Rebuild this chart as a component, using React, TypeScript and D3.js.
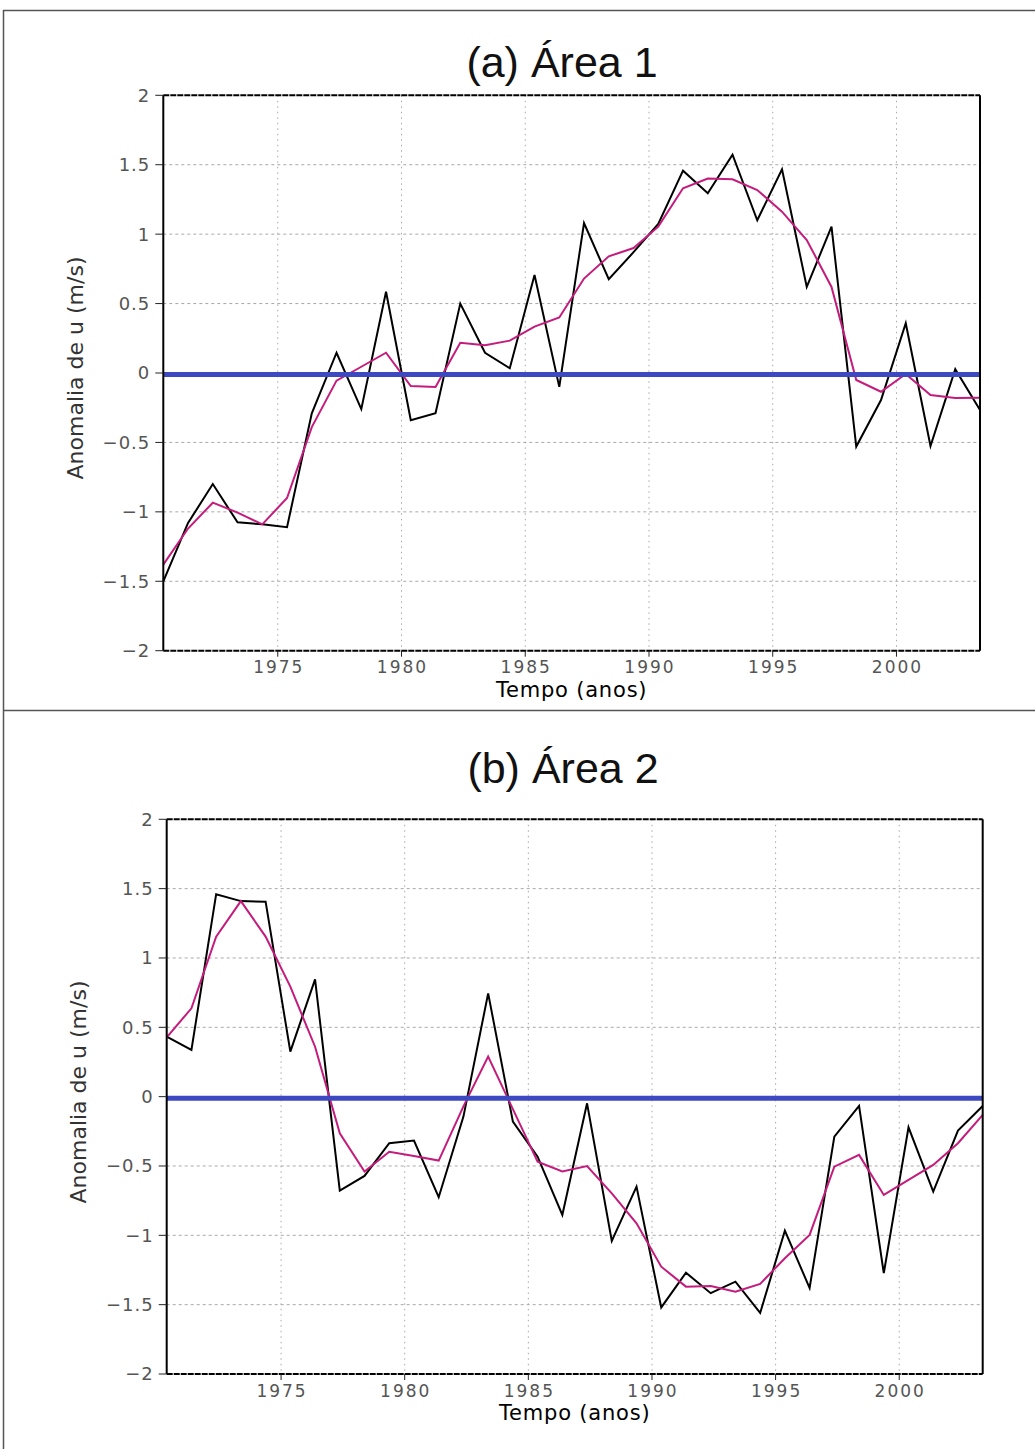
import React from "react";
import * as d3 from "d3";

// Annual series, one value per year
const years = [
  1970, 1971, 1972, 1973, 1974, 1975, 1976, 1977, 1978, 1979,
  1980, 1981, 1982, 1983, 1984, 1985, 1986, 1987, 1988, 1989,
  1990, 1991, 1992, 1993, 1994, 1995, 1996, 1997, 1998, 1999,
  2000, 2001, 2002, 2003,
];

// Área 1: annual anomaly and smoothed curve (m/s)
const area1Anomaly = [
  -1.5, -1.08, -0.8, -1.075, -1.09, -1.11, -0.29, 0.146, -0.26, 0.585,
  -0.34, -0.29, 0.5, 0.146, 0.034, 0.706, -0.1, 1.08, 0.675, 0.87,
  1.073, 1.457, 1.294, 1.572, 1.1, 1.467, 0.62, 1.054, -0.53, -0.195,
  0.358, -0.526, 0.027, -0.267,
];
const area1Smoothed = [
  -1.38, -1.12, -0.934, -1.005, -1.09, -0.9, -0.39, -0.055, 0.045, 0.146,
  -0.094, -0.1, 0.218, 0.2, 0.233, 0.334, 0.4, 0.68, 0.84, 0.9,
  1.054, 1.33, 1.4, 1.395, 1.318, 1.162, 0.958, 0.62, -0.05, -0.135,
  -0.007, -0.158, -0.18, -0.178,
];

// Área 2: annual anomaly and smoothed curve (m/s)
const area2Anomaly = [
  0.433, 0.337, 1.46, 1.41, 1.406, 0.325, 0.846, -0.678, -0.572, -0.336,
  -0.317, -0.725, -0.144, 0.745, -0.18, -0.433, -0.853, -0.048, -1.04, -0.649,
  -1.52, -1.27, -1.417, -1.334, -1.56, -0.966, -1.38, -0.288, -0.067, -1.273,
  -0.221, -0.685, -0.245, -0.067,
];
const area2Smoothed = [
  0.428, 0.637, 1.154, 1.41, 1.154, 0.793, 0.36, -0.264, -0.54, -0.397,
  -0.428, -0.461, -0.07, 0.289, -0.09, -0.469, -0.54, -0.5, -0.697, -0.913,
  -1.226, -1.37, -1.365, -1.406, -1.35, -1.165, -0.997, -0.505, -0.42, -0.709,
  -0.6, -0.492, -0.336, -0.132,
];

const yearTicks = [1975, 1980, 1985, 1990, 1995, 2000];
const valueTicks = [-2, -1.5, -1, -0.5, 0, 0.5, 1, 1.5, 2];
const panelTitles = ["(a) Área 1", "(b) Área 2"];
const xAxisTitle = "Tempo (anos)";
const yAxisTitle = "Anomalia de u (m/s)";

// each yearly value is stamped a little after the start of its year
const STAMP = 0.375;

const W = 1035;
const H = 1449;

type Layout = {
  left: number;
  right: number;
  top: number;
  bottom: number;
  titleX: number;
  titleY: number;
  yLabelX: number;
  yLabelY: number;
};

const layouts: Layout[] = [
  { left: 163.3, right: 980, top: 95.3, bottom: 650.7, titleX: 562, titleY: 77, yLabelX: 75, yLabelY: 368 },
  { left: 166.7, right: 982.7, top: 819.3, bottom: 1374, titleX: 563, titleY: 783, yLabelX: 78, yLabelY: 1092 },
];

const fmt = d3.format("");

function Panel({
  layout,
  title,
  anomaly,
  smoothed,
}: {
  layout: Layout;
  title: string;
  anomaly: number[];
  smoothed: number[];
}) {
  const { left, right, top, bottom } = layout;
  const x = d3
    .scaleLinear()
    .domain([years[0] + STAMP, years[years.length - 1] + STAMP])
    .range([left, right]);
  const y = d3.scaleLinear().domain([-2, 2]).range([bottom, top]);

  const line = d3
    .line<number>()
    .x((_, i) => x(years[i] + STAMP))
    .y((d) => y(d));

  const tickFont = "'DejaVu Sans', sans-serif";

  return (
    <g>
      <text
        x={layout.titleX}
        y={layout.titleY}
        textAnchor="middle"
        fontFamily="'Liberation Sans', Arial, sans-serif"
        fontSize={43}
        fill="#111"
      >
        {title}
      </text>

      {/* grid */}
      {valueTicks
        .filter((v) => v > -2 && v < 2)
        .map((v) => (
          <line
            key={"h" + v}
            x1={left}
            x2={right}
            y1={y(v)}
            y2={y(v)}
            stroke="#a8a8a8"
            strokeWidth={1}
            strokeDasharray="3,3"
          />
        ))}
      {yearTicks.map((t) => (
        <line
          key={"v" + t}
          x1={x(t)}
          x2={x(t)}
          y1={top}
          y2={bottom}
          stroke="#a8a8a8"
          strokeWidth={1}
          strokeDasharray="1.5,4"
        />
      ))}

      {/* series */}
      <path d={line(anomaly) || ""} fill="none" stroke="#000" strokeWidth={2} strokeLinejoin="miter" />
      <path d={line(smoothed) || ""} fill="none" stroke="#c41c7c" strokeWidth={2} />
      <line x1={left} x2={right} y1={y(0) + 1.5} y2={y(0) + 1.5} stroke="#3d49c0" strokeWidth={5} />

      {/* frame */}
      <line x1={left} x2={left} y1={top} y2={bottom} stroke="#000" strokeWidth={2} />
      <line x1={right} x2={right} y1={top} y2={bottom} stroke="#000" strokeWidth={2} />
      <line x1={left} x2={right} y1={top} y2={top} stroke="#000" strokeWidth={2} strokeDasharray="6,1" />
      <line x1={left} x2={right} y1={bottom} y2={bottom} stroke="#000" strokeWidth={2} strokeDasharray="6,1" />

      {/* y axis */}
      {valueTicks.map((v) => (
        <g key={"yt" + v}>
          <line x1={left - 8} x2={left} y1={y(v)} y2={y(v)} stroke="#222" strokeWidth={1} />
          <text
            x={left - 13}
            y={y(v)}
            dy="0.36em"
            textAnchor="end"
            fontFamily={tickFont}
            fontSize={18}
            letterSpacing={1}
            fill="#555"
          >
            {fmt(v)}
          </text>
        </g>
      ))}

      {/* x axis */}
      {yearTicks.map((t) => (
        <g key={"xt" + t}>
          <line x1={x(t)} x2={x(t)} y1={bottom} y2={bottom + 6} stroke="#222" strokeWidth={1} />
          <text
            x={x(t) + 1}
            y={bottom + 22.5}
            textAnchor="middle"
            fontFamily={tickFont}
            fontSize={17}
            letterSpacing={2}
            fill="#555"
          >
            {t}
          </text>
        </g>
      ))}

      <text
        x={(left + right) / 2}
        y={bottom + 46}
        textAnchor="middle"
        fontFamily={tickFont}
        fontSize={21}
        letterSpacing={0.8}
        fill="#000"
      >
        {xAxisTitle}
      </text>
      <text
        transform={`translate(${layout.yLabelX},${layout.yLabelY}) rotate(-90)`}
        dy="0.35em"
        textAnchor="middle"
        fontFamily={tickFont}
        fontSize={22}
        fill="#333"
      >
        {yAxisTitle}
      </text>
    </g>
  );
}

export default function App() {
  const series = [
    { anomaly: area1Anomaly, smoothed: area1Smoothed },
    { anomaly: area2Anomaly, smoothed: area2Smoothed },
  ];
  return (
    <div style={{ position: "absolute", left: 0, top: 0 }}>
      <svg width={W} height={H} style={{ display: "block", background: "#fff" }}>
        <rect x={0} y={0} width={W} height={H} fill="#fff" />
        {/* outer figure borders */}
        <line x1={3} x2={W} y1={10.5} y2={10.5} stroke="#555" strokeWidth={1.5} />
        <line x1={3.5} x2={3.5} y1={10} y2={H} stroke="#555" strokeWidth={1.5} />
        <line x1={3} x2={W} y1={710.5} y2={710.5} stroke="#555" strokeWidth={1.5} />
        {layouts.map((l, i) => (
          <Panel
            key={i}
            layout={l}
            title={panelTitles[i]}
            anomaly={series[i].anomaly}
            smoothed={series[i].smoothed}
          />
        ))}
      </svg>
    </div>
  );
}
